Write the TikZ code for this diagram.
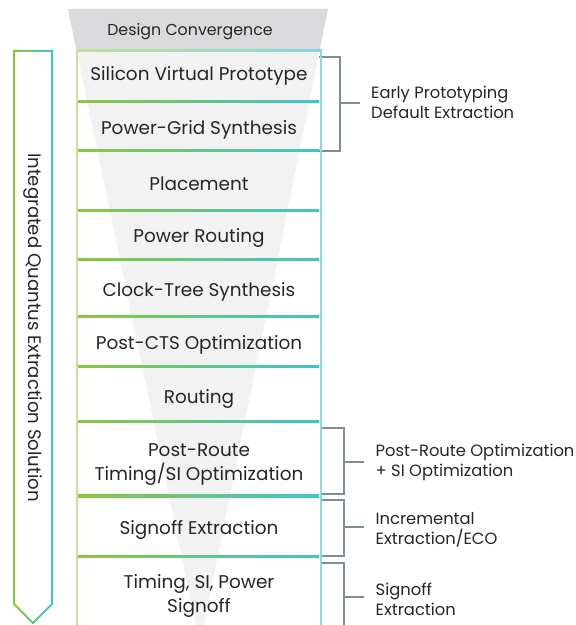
\documentclass[tikz,border=0pt]{standalone}
\usepackage{fontspec}
\setmainfont{Poppins}
\begin{document}
\begin{tikzpicture}[x=1bp,y=-1bp]
\definecolor{gA}{HTML}{8CC63F}
\definecolor{cA}{HTML}{3EC4CD}
\definecolor{gL}{HTML}{C4E39B}
\definecolor{cL}{HTML}{8ADAE0}
\definecolor{brk}{HTML}{7F8E96}
\definecolor{fun}{HTML}{F2F2F2}
\definecolor{hdr}{HTML}{DADADC}
\definecolor{txt}{HTML}{262626}
\tikzset{
 rowtext/.style={font=\fontsize{18.5}{24.5}\selectfont, text=txt, align=center, inner sep=0pt},
 sidetext/.style={font=\fontsize{16.4}{20}\selectfont, text=txt, align=left, anchor=west, inner sep=0pt},
 bracket/.style={draw=brk, line width=2bp},
 divider/.style={left color=gA, right color=cA},
}
\useasboundingbox (0,0) rectangle (576,625);
% funnel
\fill[fun] (68,9) -- (328,9) -- (200,645) -- cycle;
\fill[hdr] (68,9) -- (328,9) -- (319.5,50) -- (76.5,50) -- cycle;
\node[font=\fontsize{15.9}{19}\selectfont, text=txt, inner sep=0pt] (hd) at (190,31.5) {Design Convergence};
% brackets
\coordinate (b1t) at (319,56.8); \coordinate (b1b) at (319,150.6);
\draw[bracket] (b1t) -| (340,150.6) -- (b1b);
\draw[bracket] (340,102.7) -- (360,102.7);
\draw[bracket] (320,428.3) -| (344,494.3) -- (320,494.3);
\draw[bracket] (344,461.7) -- (364,461.7);
\draw[bracket] (320,500) -| (344,556) -- (320,556);
\draw[bracket] (344,526.7) -- (364,526.7);
\draw[bracket] (320,563.3) -| (344,640);
\draw[bracket] (344,596.7) -- (364,596.7);
% dividers
\foreach \yy in {101.5,150.6,210.6,259.7,316.7,366.3,421.7,495.9,556.6}
  \shade[divider] (77,\yy-1.2) rectangle (319,\yy+1.2);
% box frame
\shade[left color=gA!55, right color=cA!65] (76,49.5) rectangle (322,52);
\draw[gL, line width=2bp] (77,50) -- (77,640);
\draw[cL, line width=2.2bp] (321,50) -- (321,640);
% left arrow
\begin{scope}[even odd rule]
\clip (13,50) -- (53,50) -- (53,604.4) -- (33,624.4) -- (13,604.4) -- cycle
  (15,52) -- (51,52) -- (51,603.6) -- (33,621.6) -- (15,603.6) -- cycle;
\shade[left color=gA, right color=cA] (13,50) rectangle (53,626);
\end{scope}
\node[rotate=-90, font=\fontsize{18.2}{20}\selectfont, text=txt, inner sep=0pt] (side) at (33,327.5) {Integrated Quantus Extraction Solution};
% rows
\node[rowtext] (r1) at (199,76) {Silicon Virtual Prototype};
\node[rowtext] (r2) at (199,130) {Power-Grid Synthesis};
\node[rowtext] (r3) at (199,183.5) {Placement};
\node[rowtext] (r4) at (199,237.5) {Power Routing};
\node[rowtext] (r5) at (199,291.5) {Clock-Tree Synthesis};
\node[rowtext] (r6) at (199,344.5) {Post-CTS Optimization};
\node[rowtext] (r7) at (199,398.5) {Routing};
\node[rowtext] (r8) at (199,464.5) {Post-Route\\Timing/SI Optimization};
\node[rowtext] (r9) at (199,529.5) {Signoff Extraction};
\node[rowtext] (r10) at (199,596) {Timing, SI, Power\\Signoff};
% side labels
\node[sidetext] (l1) at (371,102.5) {Early Prototyping\\Default Extraction};
\node[sidetext] (l2) at (375.5,462.5) {Post-Route Optimization\\+ SI Optimization};
\node[sidetext] (l3) at (375.5,530) {Incremental\\Extraction/ECO};
\node[sidetext] (l4) at (375.5,599.5) {Signoff\\Extraction};
\end{tikzpicture}
\end{document}
